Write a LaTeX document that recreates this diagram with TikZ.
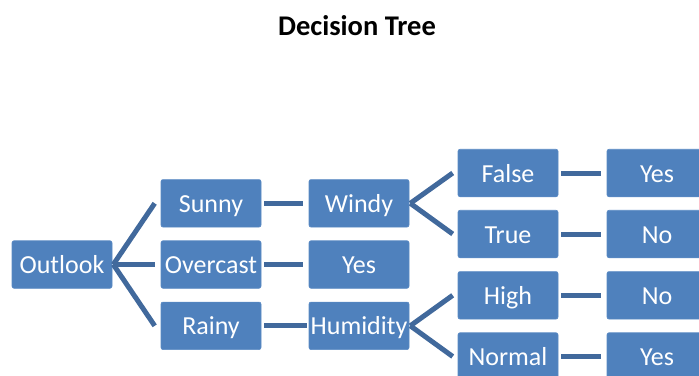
\documentclass[tikz,border=0pt]{standalone}
\usepackage{fontspec}
\setmainfont{Carlito}
\begin{document}
\begin{tikzpicture}[x=1pt,y=-1pt,
  box/.style={fill=boxblue, draw=boxedge, line width=0.6pt, rounded corners=2pt,
    minimum width=100pt, minimum height=47.5pt, inner sep=0pt,
    text=white, font=\fontsize{26}{26}\selectfont, text height=18pt, text depth=0pt},
  conn/.style={draw=linkblue, line width=5pt, line cap=butt}]
\definecolor{boxblue}{HTML}{4F81BD}
\definecolor{boxedge}{HTML}{5A8AC4}
\definecolor{linkblue}{HTML}{41699C}
\useasboundingbox (0,0) rectangle (699,375);
\clip (0,0) rectangle (699,375);

\node[anchor=base, font=\fontsize{28.5}{28.5}\selectfont\bfseries] (title) at (357,35) {Decision Tree};

% first level
\node[box] (outlook)  at (62,264.5)  {Outlook};
% second level
\node[box] (sunny)    at (211,203.3) {Sunny};
\node[box] (overcast) at (211,264.5) {Overcast};
\node[box] (rainy)    at (211,325.8) {Rainy};
% third level
\node[box] (windy)    at (359,203.3) {Windy};
\node[box] (yesA)     at (359,264.5) {Yes};
\node[box] (humidity) at (359,325.8) {Humidity};
% fourth level
\node[box] (false)    at (508,173)   {False};
\node[box] (true)     at (508,234)   {True};
\node[box] (high)     at (508,295.3) {High};
\node[box] (normal)   at (508,356.5) {Normal};
% leaves
\node[box] (yesB)     at (657,173)   {Yes};
\node[box] (noA)      at (657,234)   {No};
\node[box] (noB)      at (657,295.3) {No};
\node[box] (yesC)     at (657,356.5) {Yes};

% fans
\foreach \c in {sunny,overcast,rainy}
  \draw[conn] ([xshift=1]outlook.east) -- ([xshift=-6]\c.west);
\foreach \c in {false,true}
  \draw[conn] ([xshift=1]windy.east) -- ([xshift=-5]\c.west);
\foreach \c in {high,normal}
  \draw[conn] ([xshift=1]humidity.east) -- ([xshift=-5]\c.west);

% straight links
\draw[conn] ([xshift=3]sunny.east) -- ([xshift=-6]windy.west);
\draw[conn] ([xshift=3]overcast.east) -- ([xshift=-6]yesA.west);
\draw[conn] ([xshift=3]rainy.east) -- ([xshift=-2]humidity.west);
\draw[conn] ([xshift=3]false.east) -- ([xshift=-6]yesB.west);
\draw[conn] ([xshift=3]true.east) -- ([xshift=-6]noA.west);
\draw[conn] ([xshift=3]high.east) -- ([xshift=-6]noB.west);
\draw[conn] ([xshift=3]normal.east) -- ([xshift=-6]yesC.west);
\end{tikzpicture}
\end{document}
